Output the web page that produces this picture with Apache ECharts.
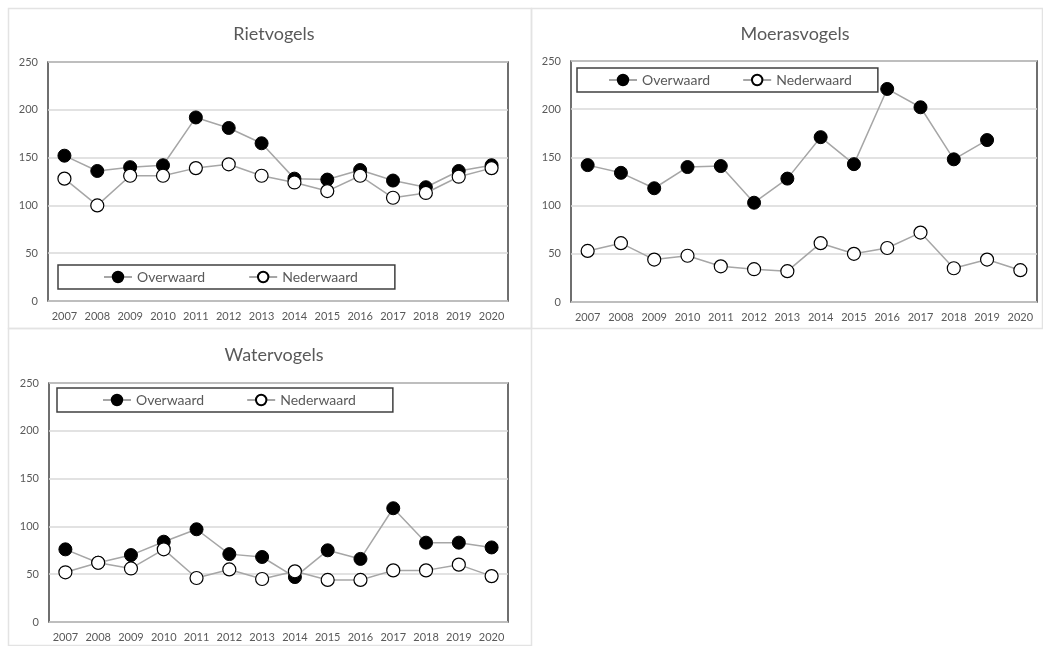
<!DOCTYPE html>
<html>
<head>
<meta charset="utf-8">
<script src="https://cdn.jsdelivr.net/npm/echarts@6/dist/echarts.min.js"></script>
<style>
  html, body { margin: 0; padding: 0; background: #ffffff; }
  #chart { width: 1043px; height: 646px; }
</style>
</head>
<body>
<div id="chart"></div>
<script>
// Years on the horizontal axis
const years = ['2007','2008','2009','2010','2011','2012','2013','2014','2015','2016','2017','2018','2019','2020'];
const yTicks = [0, 50, 100, 150, 200, 250];

// Rietvogels
const rietOverwaard  = [152, 136, 140, 142, 192, 181, 165, 128, 127, 137, 126, 119, 136, 142];
const rietNederwaard = [128, 100, 131, 131, 139, 143, 131, 124, 115, 131, 108, 113, 130, 139];

// Moerasvogels (no Overwaard count for 2020)
const moerasOverwaard  = [142, 134, 118, 140, 141, 103, 128, 171, 143, 221, 202, 148, 168, null];
const moerasNederwaard = [53, 61, 44, 48, 37, 34, 32, 61, 50, 56, 72, 35, 44, 33];

// Watervogels
const waterOverwaard  = [76, 62, 70, 84, 97, 71, 68, 47, 75, 66, 119, 83, 83, 78];
const waterNederwaard = [52, 62, 56, 76, 46, 55, 45, 53, 44, 44, 54, 54, 60, 48];

const titles = ['Rietvogels', 'Moerasvogels', 'Watervogels'];
const seriesNames = ['Overwaard', 'Nederwaard'];

const FONT = 'Lato, "Open Sans", sans-serif';
const TEXT = '#595959';

// Panel frames, plot areas and legend boxes
const panels = [
  { x: 8,   y: 8,   w: 523, h: 320, grid: { left: 48,  top: 62,  width: 460, height: 239 }, titleX: 269, titleY: 20,
    legend: { left: 58,  top: 265, padding: [5, 37, 5, 45], gap: 43 } },
  { x: 531, y: 8,   w: 511, h: 320, grid: { left: 571, top: 61,  width: 466, height: 241 }, titleX: 790, titleY: 20,
    legend: { left: 577, top: 68,  padding: [5, 26, 5, 31], gap: 32 } },
  { x: 8,   y: 328, w: 523, h: 317, grid: { left: 49,  top: 383, width: 459, height: 239 }, titleX: 269, titleY: 341,
    legend: { left: 57,  top: 388, padding: [5, 37, 5, 45], gap: 42 } }
];

const data = [
  [rietOverwaard, rietNederwaard],
  [moerasOverwaard, moerasNederwaard],
  [waterOverwaard, waterNederwaard]
];

const chart = echarts.init(document.getElementById('chart'), null, { renderer: 'canvas' });

const option = {
  animation: false,
  backgroundColor: '#ffffff',
  textStyle: { fontFamily: FONT },
  graphic: panels.map(p => ({
    type: 'rect',
    shape: { x: p.x + 0.5, y: p.y + 0.5, width: p.w, height: p.h },
    style: { fill: 'none', stroke: '#e3e3e3', lineWidth: 1.5 },
    silent: true,
    z: -1
  })),
  title: panels.map((p, i) => ({
    text: titles[i],
    left: p.titleX,
    top: p.titleY,
    textAlign: 'center',
    textStyle: { fontFamily: FONT, fontSize: 18, fontWeight: 'normal', color: TEXT }
  })),
  legend: panels.map(p => ({
    data: seriesNames,
    left: p.legend.left,
    top: p.legend.top,
    orient: 'horizontal',
    borderColor: '#404040',
    borderWidth: 1.5,
    backgroundColor: '#ffffff',
    padding: p.legend.padding,
    itemWidth: 28,
    itemHeight: 13,
    itemGap: p.legend.gap,
    selectedMode: false,
    textStyle: { fontFamily: FONT, fontSize: 14, color: TEXT }
  })),
  grid: panels.map(p => ({
    left: p.grid.left,
    top: p.grid.top,
    width: p.grid.width,
    height: p.grid.height,
    show: true,
    borderColor: '#404040',
    borderWidth: 1.5,
    backgroundColor: 'transparent'
  })),
  xAxis: panels.map((p, i) => ({
    type: 'category',
    gridIndex: i,
    data: years,
    boundaryGap: true,
    axisLine: { show: false },
    axisTick: { show: false },
    axisLabel: { color: TEXT, fontSize: 11, fontFamily: FONT, margin: 10, interval: 0 }
  })),
  yAxis: panels.map((p, i) => ({
    type: 'value',
    gridIndex: i,
    min: yTicks[0],
    max: yTicks[yTicks.length - 1],
    interval: 50,
    axisLine: { show: false },
    axisTick: { show: false },
    axisLabel: { color: TEXT, fontSize: 11, fontFamily: FONT, margin: 10 },
    splitLine: { show: true, lineStyle: { color: '#d9d9d9', width: 1.5 } }
  })),
  series: []
};

data.forEach((pair, i) => {
  pair.forEach((values, k) => {
    const filled = k === 0;
    option.series.push({
      name: seriesNames[k],
      type: 'line',
      xAxisIndex: i,
      yAxisIndex: i,
      data: values,
      symbol: 'circle',
      symbolSize: 13,
      showAllSymbol: true,
      connectNulls: false,
      lineStyle: { color: '#a6a6a6', width: 1.5 },
      itemStyle: {
        color: filled ? '#000000' : '#ffffff',
        borderColor: '#000000',
        borderWidth: filled ? 1 : 1.2
      },
      emphasis: { disabled: true },
      z: filled ? 3 : 4
    });
  });
});

chart.setOption(option);
</script>
</body>
</html>
